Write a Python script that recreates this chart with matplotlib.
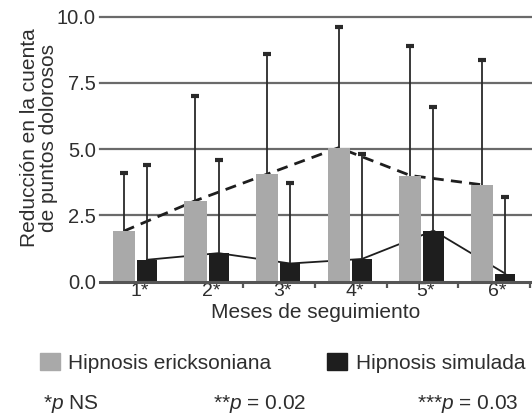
import matplotlib
matplotlib.use("Agg")
import matplotlib.pyplot as plt
from matplotlib.patches import Patch
import numpy as np

plt.rcParams['font.family'] = ['Liberation Sans', 'DejaVu Sans']
plt.rcParams['mathtext.fontset'] = 'custom'
plt.rcParams['mathtext.rm'] = 'Liberation Sans'
plt.rcParams['mathtext.it'] = 'Liberation Sans:italic'

# data
months = ['1*', '2*', '3*', '4*', '5*', '6*']
erick = [1.9, 3.05, 4.05, 5.05, 4.0, 3.65]
erick_upper = [4.1, 7.0, 8.6, 9.6, 8.9, 8.35]
simul = [0.82, 1.07, 0.68, 0.85, 1.92, 0.3]
simul_upper = [4.4, 4.6, 3.7, 4.8, 6.6, 3.2]

txt = '#2e2e2e'
gray = '#a9a9a9'
black = '#1e1e1e'

fig = plt.figure(figsize=(5.32, 4.16), dpi=100)
ax = fig.add_axes([0.188, 0.3233, 0.812, 0.6434])

x = np.arange(1, len(months) + 1)
xg = x - 0.168
xb = x + 0.155

for v in [2.5, 5.0, 7.5, 10.0]:
    ax.axhline(v, color='#6a6a6a', lw=1.6, zorder=1, clip_on=False)

ax.plot(xg, erick, color=black, lw=2.0, dashes=(4, 2.6), zorder=2)
ax.plot(xb, simul, color=black, lw=1.3, zorder=2)

ax.bar(xg, erick, width=0.31, color=gray, zorder=3)
ax.bar(xb, simul, width=0.28, color=black, zorder=3)

ax.vlines(xg, erick, erick_upper, color='#2a2a2a', lw=1.3, zorder=4)
ax.vlines(xb, simul, simul_upper, color='#2a2a2a', lw=1.3, zorder=4)
ax.plot(xg, erick_upper, ls='none', marker='_', ms=6, mew=3, color='#2a2a2a', zorder=4)
ax.plot(xb, simul_upper, ls='none', marker='_', ms=6, mew=3, color='#2a2a2a', zorder=4)

ax.set_xlim(0.5, 6.53)
ax.set_ylim(0, 10.1)
ax.set_yticks([0, 2.5, 5.0, 7.5, 10.0])
ax.set_yticklabels(['0.0', '2.5', '5.0', '7.5', '10.0'], fontsize=14.5, color=txt)
ax.tick_params(axis='y', length=0, pad=3)

ax.set_xticks(x + 0.05)
ax.set_xticklabels(months, fontsize=14, color=txt)
ax.set_xticks(np.arange(2.5, 7, 1.0), minor=True)
ax.tick_params(axis='x', which='major', length=0, pad=1)
ax.tick_params(axis='x', which='minor', length=4, width=1.6, color='#555555')

for s in ['top', 'right', 'left']:
    ax.spines[s].set_visible(False)
ax.spines['bottom'].set_color('#555555')
ax.spines['bottom'].set_linewidth(2.2)
ax.spines['bottom'].set_zorder(5)

ax.set_xlabel('Meses de seguimiento', fontsize=15, color=txt, labelpad=2)

fig.text(0.073, 0.668, 'Reducción en la cuenta\nde puntos dolorosos', rotation=90,
         ha='center', va='center', fontsize=15, color=txt, linespacing=1.0,
         multialignment='center')

handles = [Patch(color=gray, label='Hipnosis ericksoniana'),
           Patch(color=black, label='Hipnosis simulada')]
fig.legend(handles=handles, loc='center left', bbox_to_anchor=(0.075, 0.127),
           ncol=2, frameon=False, fontsize=15, borderpad=0, borderaxespad=0,
           handlelength=0.95, handleheight=0.85, handletextpad=0.4,
           columnspacing=2.7, labelcolor=txt)

fig.text(0.08, 0.03, r'*$\mathit{p}$ NS', fontsize=15, color=txt, va='center')
fig.text(0.40, 0.03, r'**$\mathit{p}$ = 0.02', fontsize=15, color=txt, va='center')
fig.text(0.784, 0.03, r'***$\mathit{p}$ = 0.03', fontsize=15, color=txt, va='center')

fig.savefig('out.png', dpi=100)
